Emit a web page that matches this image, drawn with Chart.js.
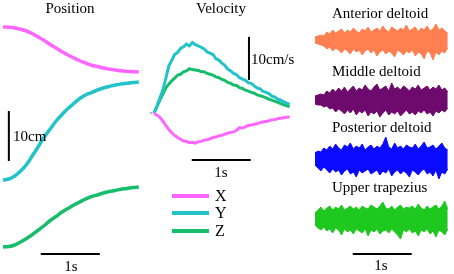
<!DOCTYPE html>
<html>
<head>
<meta charset="utf-8">
<script src="https://cdn.jsdelivr.net/npm/chart.js@4/dist/chart.umd.min.js"></script>
<style>
html, body { margin: 0; padding: 0; background: #fff; }
#wrap { position: relative; width: 454px; height: 274px; overflow: hidden; }
canvas { position: absolute; top: 0; }
</style>
</head>
<body>
<div id="wrap">
	<canvas id="posChart" width="150" height="274" style="left:0"></canvas>
	<canvas id="velChart" width="160" height="274" style="left:140px"></canvas>
	<canvas id="emgChart" width="154" height="274" style="left:300px"></canvas>
</div>
<script>
// ---- data ----
const seriesNames = ['X', 'Y', 'Z'];
const muscleNames = ['Anterior deltoid', 'Middle deltoid', 'Posterior deltoid', 'Upper trapezius'];

// position (cm, relative to start), sampled every 0.1 s
const posTime = [0,0.1,0.2,0.3,0.4,0.5,0.6,0.7,0.8,0.9,1,1.1,1.2,1.3,1.4,1.5,1.6,1.7,1.8,1.9,2,2.1,2.2,2.3];
const posX = [0,-0.05,-0.2,-0.45,-0.8,-1.35,-2.0,-2.7,-3.5,-4.2,-4.95,-5.6,-6.2,-6.75,-7.2,-7.65,-7.9,-8.2,-8.4,-8.6,-8.75,-8.85,-8.93,-9.0];
const posY = [0,0.2,0.8,1.8,3.1,4.9,6.7,8.6,10.2,11.8,13.1,14.3,15.3,16.3,17.0,17.5,18.0,18.4,18.7,19.0,19.2,19.35,19.5,19.6];
const posZ = [0,0.1,0.4,1.0,1.7,2.5,3.4,4.3,5.3,6.1,7.0,7.7,8.4,9.0,9.6,10.1,10.4,10.8,11.1,11.3,11.55,11.7,11.9,12.0];
const posOffset = [49.4, 18.8, 5.4]; // vertical stacking of the traces (cm)

// velocity (cm/s), sampled every 0.05 s
const timeFine = [0,0.05,0.1,0.15,0.2,0.25,0.3,0.35,0.4,0.45,0.5,0.55,0.6,0.65,0.7,0.75,0.8,0.85,0.9,0.95,1,1.05,1.1,1.15,1.2,1.25,1.3,1.35,1.4,1.45,1.5,1.55,1.6,1.65,1.7,1.75,1.8,1.85,1.9,1.95,2,2.05,2.1,2.15,2.2,2.25,2.3];
const velX = [0,-0.5,-1.0,-1.9,-2.9,-3.8,-4.6,-5.2,-5.7,-6.1,-6.5,-6.6,-6.9,-6.8,-7.0,-6.7,-6.6,-6.3,-6.2,-6.0,-5.7,-5.6,-5.3,-5.2,-4.9,-4.7,-4.5,-4.4,-4.0,-3.4,-3.5,-3.2,-2.9,-2.8,-2.6,-2.5,-2.2,-2.1,-2.0,-1.8,-1.6,-1.5,-1.3,-1.2,-1.1,-1.0,-0.9];
const velY = [0,1.6,3.5,5.4,8.0,10.9,12.2,13.6,14.1,15.0,15.4,16.0,15.6,16.4,15.9,15.6,15.3,14.9,14.2,13.9,13.6,12.6,12.3,11.6,11.1,10.2,9.8,9.2,8.9,8.2,7.9,7.6,7.0,6.9,6.3,5.8,5.6,5.0,4.8,4.5,3.9,3.7,3.2,3.0,2.6,2.3,2.0];
const velZ = [0,1.5,3.0,4.4,5.8,6.7,7.5,8.1,8.8,9.0,9.6,9.8,10.3,10.1,10.0,9.9,9.6,9.6,9.2,9.0,8.8,8.4,8.2,7.8,7.6,7.1,6.9,6.5,6.4,5.9,5.7,5.3,5.1,4.8,4.6,4.2,4.0,3.8,3.5,3.2,3.0,2.7,2.5,2.2,1.9,1.7,1.5];

// EMG envelopes (a.u.), upper and lower, sampled every 0.05 s
const antUp = [0.3,0.4,0.5,0.4,0.8,0.6,1.0,0.7,0.9,1.1,0.7,1.0,0.8,1.2,0.9,0.7,1.1,0.9,1.3,0.8,1.0,1.2,0.9,1.4,1.0,0.8,1.3,1.1,0.9,1.2,1.0,1.5,0.9,1.1,1.3,0.8,1.2,1.0,1.4,0.9,1.1,1.6,1.0,1.2,0.9,0.7];
const antLo = [-0.3,-0.4,-0.5,-0.6,-0.9,-0.7,-1.1,-0.8,-1.0,-1.3,-0.9,-1.1,-1.4,-0.9,-1.2,-1.0,-1.5,-1.1,-0.9,-1.3,-1.0,-1.6,-1.2,-1.0,-1.4,-1.1,-1.3,-1.7,-1.0,-1.2,-1.5,-1.1,-1.3,-1.0,-1.6,-1.2,-1.4,-1.9,-1.1,-1.3,-2.0,-1.2,-1.5,-1.1,-1.3,-0.8];
const midUp = [0.4,0.5,0.6,0.5,0.9,0.7,1.1,0.8,1.2,0.9,1.3,0.8,1.1,1.4,0.9,1.2,1.0,1.5,1.1,0.9,1.3,1.6,1.0,1.2,1.4,0.9,1.7,1.1,1.3,1.0,1.4,1.2,0.9,1.3,1.1,1.5,1.0,1.2,1.4,1.0,1.3,1.1,1.5,1.0,1.2,0.8];
const midLo = [-0.4,-0.5,-0.5,-0.7,-0.6,-0.9,-0.8,-1.2,-0.9,-1.1,-1.4,-1.0,-1.3,-0.9,-1.5,-1.1,-1.3,-1.0,-1.6,-1.2,-1.4,-1.1,-1.7,-1.3,-1.0,-1.5,-1.2,-1.4,-1.1,-1.6,-1.3,-1.0,-1.4,-1.2,-1.5,-1.1,-1.3,-1.0,-1.4,-1.2,-1.6,-1.1,-1.3,-1.0,-1.2,-0.8];
const postUp = [0.6,0.8,0.7,1.1,0.9,1.3,1.0,1.5,1.1,0.9,1.4,1.2,1.6,1.0,1.3,1.1,1.5,0.9,1.2,1.4,1.0,1.3,1.1,1.5,2.2,1.2,1.0,1.6,1.1,1.3,1.0,1.4,1.2,1.1,1.5,1.0,1.3,1.7,1.1,1.2,1.4,1.0,1.3,1.6,1.1,0.9];
const postLo = [-0.6,-0.9,-1.2,-0.8,-1.1,-1.4,-1.0,-1.3,-1.1,-1.6,-1.2,-1.0,-1.5,-1.3,-1.8,-1.1,-1.4,-1.2,-1.0,-1.5,-1.3,-1.1,-1.6,-1.2,-1.4,-1.0,-1.7,-1.3,-1.1,-1.5,-1.2,-1.4,-1.8,-1.1,-1.3,-1.6,-1.2,-1.0,-1.5,-1.3,-1.7,-1.1,-2.0,-1.3,-1.5,-1.0];
const trapUp = [0.6,0.9,1.2,0.8,1.1,1.3,0.9,1.2,1.0,1.4,0.9,1.1,1.3,1.0,1.2,0.9,1.3,1.1,1.0,1.4,1.2,1.0,1.3,1.7,1.1,1.0,1.3,0.9,1.2,1.4,1.0,1.2,1.1,1.3,1.0,1.5,1.1,0.9,1.3,1.0,1.2,1.4,1.0,1.3,1.8,1.0];
const trapLo = [-0.6,-0.9,-1.1,-0.8,-1.2,-1.0,-1.4,-0.9,-1.1,-1.6,-1.0,-1.3,-1.1,-1.5,-1.0,-1.2,-1.4,-1.0,-1.7,-1.1,-1.3,-1.0,-1.5,-1.2,-1.1,-1.4,-1.0,-1.3,-1.6,-2.0,-1.1,-1.3,-1.0,-1.4,-1.2,-1.7,-1.1,-1.3,-1.0,-1.5,-1.2,-1.8,-1.1,-1.3,-1.6,-1.0];
const emgOffset = [23.4, 17.4, 11.5, 5.5];

// ---- styles ----
const xyzColors = ['#ff66ff', '#22c3c8', '#16bd6a'];
const emgColors = ['#ff7f50', '#6e0a6e', '#0a0aff', '#1ec81e'];
const serif = '"Liberation Serif", "Times New Roman", serif';

Chart.defaults.animation = false;
Chart.defaults.responsive = false;
Chart.defaults.plugins.legend.display = false;
Chart.defaults.plugins.tooltip.enabled = false;
Chart.defaults.elements.point.radius = 0;

function toPoints(times, values, offset) {
	return values.map((v, i) => ({ x: times[i], y: v + offset }));
}

function hiddenScales(xMin, xMax, yMin, yMax) {
	return {
		x: { type: 'linear', display: false, min: xMin, max: xMax },
		y: { type: 'linear', display: false, min: yMin, max: yMax }
	};
}

function bar(ctx, x1, y1, x2, y2) {
	ctx.beginPath();
	ctx.moveTo(x1, y1);
	ctx.lineTo(x2, y2);
	ctx.stroke();
}

function label(ctx, text, x, y, align, size) {
	ctx.font = `${size || 15}px ${serif}`;
	ctx.fillStyle = '#000';
	ctx.textAlign = align || 'center';
	ctx.textBaseline = 'middle';
	ctx.fillText(text, x, y);
}

// ---- position ----
const posMarks = {
	id: 'posMarks',
	afterDatasetsDraw(chart) {
		const { ctx, scales: { x, y } } = chart;
		ctx.save();
		ctx.strokeStyle = '#000';
		ctx.lineWidth = 2;
		// 10 cm bar
		bar(ctx, x.getPixelForValue(0.1), y.getPixelForValue(22.6), x.getPixelForValue(0.1), y.getPixelForValue(32.6));
		// 1 s bar
		bar(ctx, x.getPixelForValue(0.64), y.getPixelForValue(4), x.getPixelForValue(1.64), y.getPixelForValue(4));
		label(ctx, 'Position', 70, 9);
		label(ctx, '10cm', 13, 137, 'left');
		label(ctx, '1s', 71, 267);
		ctx.restore();
	}
};

new Chart(document.querySelector('#posChart'), {
	type: 'line',
	data: {
		datasets: [posX, posY, posZ].map((vals, i) => ({
			label: seriesNames[i],
			data: toPoints(posTime, vals, posOffset[i]),
			borderColor: xyzColors[i],
			borderWidth: 3.5,
			tension: 0.4,
			fill: false
		}))
	},
	options: { scales: hiddenScales(-0.05, 2.49, 0, 54.8) },
	plugins: [posMarks]
});

// ---- velocity ----
const velMarks = {
	id: 'velMarks',
	afterDatasetsDraw(chart) {
		const { ctx, scales: { x, y } } = chart;
		ctx.save();
		ctx.strokeStyle = '#000';
		ctx.lineWidth = 2;
		// 10 cm/s bar
		bar(ctx, x.getPixelForValue(1.61), y.getPixelForValue(7.7), x.getPixelForValue(1.61), y.getPixelForValue(17.7));
		// 1 s bar
		bar(ctx, x.getPixelForValue(0.64), y.getPixelForValue(-10.9), x.getPixelForValue(1.64), y.getPixelForValue(-10.9));
		// little zero tick before the start
		ctx.strokeStyle = '#777';
		ctx.lineWidth = 1;
		bar(ctx, x.getPixelForValue(-0.07), y.getPixelForValue(0), x.getPixelForValue(-0.03), y.getPixelForValue(0));

		label(ctx, 'Velocity', 81, 9);
		label(ctx, '10cm/s', 111, 60, 'left');
		label(ctx, '1s', 81, 173);

		// legend
		const rows = [196, 213, 231];
		chart.data.datasets.forEach((ds, i) => {
			ctx.strokeStyle = ds.borderColor;
			ctx.lineWidth = 4;
			bar(ctx, 32, rows[i], 69, rows[i]);
			label(ctx, ds.label, 75, rows[i] + 1, 'left', 16);
		});
		ctx.restore();
	}
};

new Chart(document.querySelector('#velChart'), {
	type: 'line',
	data: {
		datasets: [velX, velY, velZ].map((vals, i) => ({
			label: seriesNames[i],
			data: toPoints(timeFine, vals, 0),
			borderColor: xyzColors[i],
			borderWidth: 3,
			tension: 0,
			fill: false
		}))
	},
	options: { scales: hiddenScales(-0.237, 2.475, -37.44, 26.28) },
	plugins: [velMarks]
});

// ---- EMG ----
const emgMarks = {
	id: 'emgMarks',
	afterDatasetsDraw(chart) {
		const { ctx, scales: { x, y } } = chart;
		ctx.save();
		ctx.strokeStyle = '#000';
		ctx.lineWidth = 2;
		bar(ctx, x.getPixelForValue(0.64), y.getPixelForValue(2), x.getPixelForValue(1.64), y.getPixelForValue(2));
		const titleRows = [14, 72, 128, 188];
		muscleNames.forEach((name, i) => label(ctx, name, 32, titleRows[i], 'left'));
		label(ctx, '1s', 81, 266);
		ctx.restore();
	}
};

const emgBands = [[antUp, antLo], [midUp, midLo], [postUp, postLo], [trapUp, trapLo]];
const emgDatasets = [];
emgBands.forEach(([up, lo], i) => {
	emgDatasets.push({
		label: muscleNames[i],
		data: toPoints(timeFine, up, emgOffset[i]),
		borderColor: emgColors[i],
		backgroundColor: emgColors[i],
		borderWidth: 1,
		tension: 0,
		fill: '+1'
	});
	emgDatasets.push({
		label: muscleNames[i] + ' (lower)',
		data: toPoints(timeFine, lo, emgOffset[i]),
		borderColor: emgColors[i],
		borderWidth: 1,
		tension: 0,
		fill: false
	});
});

new Chart(document.querySelector('#emgChart'), {
	type: 'line',
	data: { datasets: emgDatasets },
	options: { scales: hiddenScales(-0.254, 2.356, 0, 27.4) },
	plugins: [emgMarks]
});
</script>
</body>
</html>
